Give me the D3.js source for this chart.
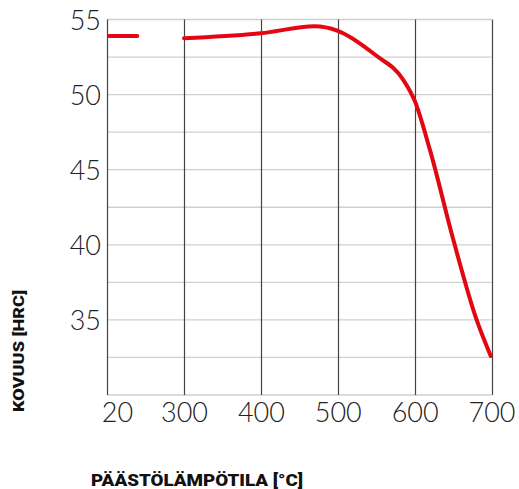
<!DOCTYPE html>
<html><head><meta charset="utf-8">
<script src="https://cdn.jsdelivr.net/npm/d3@7"></script>
<style>body{margin:0;background:#fff}</style>
</head><body>
<svg id="c" width="519" height="489"></svg>
<script>
const xTicks = [20, 300, 400, 500, 600, 700];
const yTicks = [35, 40, 45, 50, 55];
const yGrid = [30, 32.5, 35, 37.5, 40, 42.5, 45, 47.5, 50, 52.5, 55];
const roomTemp = [28, 130];
const roomHard = [53.9, 53.9];
const temps = [300, 400, 470, 500, 550, 585, 600, 620, 650, 680, 699];
const hardness = [53.75, 54.08, 54.55, 54.25, 52.6, 51.0, 49.6, 46.3, 40.4, 35.1, 32.6];

const svg = d3.select("#c");
const x = d3.scaleLinear().domain([20, 300, 700]).range([107, 184, 491.5]);
const y = d3.scaleLinear().domain([30, 55]).range([395, 19.5]);

// horizontal grid
svg.append("g").selectAll("line").data(yGrid).join("line")
  .attr("x1", 107).attr("x2", 491.5)
  .attr("y1", d => y(d)).attr("y2", d => y(d))
  .attr("stroke", "#cfcfcf").attr("stroke-width", 1.3);

// vertical grid
svg.append("g").selectAll("line").data(xTicks).join("line")
  .attr("x1", d => Math.round(x(d)) + 0.5).attr("x2", d => Math.round(x(d)) + 0.5)
  .attr("y1", y(55)).attr("y2", y(30))
  .attr("stroke", "#444").attr("stroke-width", 1.2);

// axes labels
const yAxis = d3.axisLeft(y).tickValues(yTicks).tickSize(0).tickPadding(6);
const gy = svg.append("g").attr("transform", "translate(107,0)").call(yAxis);
gy.select(".domain").remove();
gy.selectAll("text").attr("font-family", "Lato").attr("font-weight", 300)
  .attr("font-size", 27).attr("fill", "#222").attr("dy", "0.36em");

const xAxis = d3.axisBottom(x).tickValues(xTicks).tickSize(0).tickPadding(6).tickFormat(d3.format("d"));
const gx = svg.append("g").attr("transform", "translate(0,395)").call(xAxis);
gx.select(".domain").remove();
gx.selectAll("text").attr("font-family", "Lato").attr("font-weight", 300)
  .attr("font-size", 27).attr("fill", "#222").attr("dy", "0.78em");
gx.selectAll(".tick").filter(d => d === 20).select("text").attr("dx", 10);

// lines
const line = d3.line().x(d => x(d[0])).y(d => y(d[1])).curve(d3.curveMonotoneX);
svg.append("path").datum(roomTemp.map((t, i) => [t, roomHard[i]]))
  .attr("d", line).attr("fill", "none").attr("stroke", "#e30613")
  .attr("stroke-width", 4).attr("stroke-linecap", "round");
svg.append("path").datum(temps.map((t, i) => [t, hardness[i]]))
  .attr("d", line).attr("fill", "none").attr("stroke", "#e30613")
  .attr("stroke-width", 4).attr("stroke-linecap", "round").attr("stroke-linejoin", "round");

// titles
svg.append("text").attr("x", 91).attr("y", 486)
  .attr("font-family", "Roboto").attr("font-weight", 900).attr("font-size", 17)
  .attr("textLength", 212).attr("lengthAdjust", "spacingAndGlyphs").attr("fill", "#111")
  .text("PÄÄSTÖLÄMPÖTILA [°C]");
svg.append("text").attr("transform", "translate(24,412) rotate(-90)")
  .attr("font-family", "Roboto").attr("font-weight", 900).attr("font-size", 15)
  .attr("textLength", 122).attr("lengthAdjust", "spacingAndGlyphs").attr("fill", "#111")
  .text("KOVUUS [HRC]");
</script>
</body></html>
